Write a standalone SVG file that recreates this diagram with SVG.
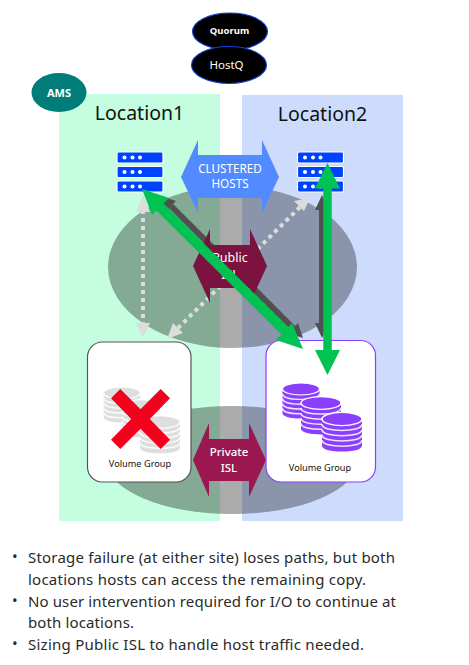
<svg xmlns="http://www.w3.org/2000/svg" width="469" height="665" viewBox="0 0 469 665">
<style>
text{font-family:"Noto Sans","Liberation Sans",sans-serif;}
.w{fill:#fff;text-anchor:middle}
.k{fill:#111;text-anchor:middle}
.b{fill:#2a2a2a;font-size:15px}
.quad{fill:#000;stroke:#0f3fd8;stroke-width:1.2}
.srv{fill:#0043ff;stroke:#fff;stroke-width:1.2}
.card{fill:#fff}
.big{fill:#0a0a0a;fill-opacity:.34}
.dark{stroke:#505050;stroke-width:6;fill:none}
.green{stroke:#00c354;stroke-width:8.500;fill:none}
.dot{stroke:#dcdcdc;stroke-width:4;stroke-dasharray:4 4;fill:none}
</style>
<defs>
<g id="row"><rect class="srv" x="0" y="0" width="46" height="11" rx="1.5"/><circle cx="7.500" cy="5.500" r="2" fill="#fff"/><circle cx="15.500" cy="5.500" r="2" fill="#fff"/><circle cx="23" cy="5.500" r="2" fill="#fff"/></g>
<g id="server"><use href="#row" y="0"/><use href="#row" y="14.500"/><use href="#row" y="29"/></g>
<g id="stack">
<path d="M-20 0V30C-20 35 -10 37 0 37S20 35 20 30V0Z" fill="currentColor"/>
<g fill="none" stroke="#fff" stroke-width="1.800" stroke-opacity=".85">
<path d="M-20 6C-20 11 -10 13 0 13S20 11 20 6"/>
<path d="M-20 12C-20 17 -10 19 0 19S20 17 20 12"/>
<path d="M-20 18C-20 23 -10 25 0 25S20 23 20 18"/>
<path d="M-20 24C-20 29 -10 31 0 31S20 29 20 24"/>
</g>
<ellipse cx="0" cy="0" rx="20" ry="7.500" fill="currentColor" stroke="#fff" stroke-width="1.500"/>
</g>
</defs>
<rect x="59" y="94" width="161" height="427" fill="#c4fde0"/>
<rect x="242" y="95" width="161" height="426" fill="#cddcfd"/>
<ellipse cx="232.500" cy="267" rx="124.500" ry="81" class="big"/>
<ellipse cx="232" cy="460" rx="126" ry="54" class="big"/>
<g id="connectors-back">
<path class="dot" d="M143 210V325"/><path d="M143 195L136 212H150Z M143 337L136 323H150Z" fill="#dcdcdc"/>
<path class="dot" d="M300 207L178 328"/><path d="M310 198L294 201L304 211Z M167 339L173 323L183 333Z" fill="#dcdcdc"/>
<path class="dark" d="M171 206L293 328"/><path d="M161 196L176 201L166 211Z M303 338L298 323L288 333Z" fill="#505050"/>
<path class="dark" d="M322 205V328"/><path d="M322 195L315 210H329Z M322 338L315 323H329Z" fill="#505050"/>
</g>
<g id="quorum"><ellipse cx="230" cy="31.500" rx="37.500" ry="18.500" class="quad"/><text x="229.500" y="33.500" class="w" font-size="9.500" font-weight="700">Quorum</text></g>
<g id="hostq"><ellipse cx="229" cy="65" rx="37.500" ry="18.500" class="quad"/><text x="226.500" y="69" class="w" font-size="11.500">HostQ</text></g>
<g id="ams"><ellipse cx="59" cy="92.500" rx="27.500" ry="19.500" fill="#007d79"/><text x="59" y="96.500" class="w" font-size="11" font-weight="700">AMS</text></g>
<g id="location1"><text x="139.500" y="120" class="k" font-size="19.500">Location1</text></g>
<g id="location2"><text x="322.500" y="121" class="k" font-size="19.500">Location2</text></g>
<g id="server1"><use href="#server" x="117" y="152"/></g>
<g id="server2"><use href="#server" x="297.500" y="152"/></g>
<g id="clustered"><path d="M181 177L198 140V155H262V140L279 177L262 213V198H198V213Z" fill="#528bff"/><text x="230" y="173" class="w" font-size="11.700">CLUSTERED</text><text x="230" y="188" class="w" font-size="11.700">HOSTS</text></g>
<g id="publicisl"><path d="M193 266L210 229V245H250V229L267 266L250 303V288H210V303Z" fill="#7c1240"/><text x="230" y="262" class="w" font-size="12.500">Public</text><text x="230" y="279" class="w" font-size="12.500">ISL</text></g>
<g id="privateisl"><path d="M193 460L209 423V439H249V423L266 460L249 497V481H209V497Z" fill="#9b1750"/><text x="229" y="456" class="w" font-size="11.500" font-weight="500">Private</text><text x="229" y="472" class="w" font-size="11.500" font-weight="500">ISL</text></g>
<g id="vg1"><rect class="card" x="87.500" y="342" width="103.500" height="140" rx="15" stroke="#555" stroke-width="1.200"/>
<g color="#dedede"><use href="#stack" transform="translate(122,393) scale(.92,.8)"/><use href="#stack" transform="translate(141,406) scale(.95,.85)"/><use href="#stack" transform="translate(160,422) scale(1,.85)"/></g>
<path d="M120.300 389L140.500 409.200L160.700 389L170 398.300L149.800 419L170 439.700L160.700 449L140.500 428.800L120.300 449L111 439.700L131.200 419L111 398.300Z" fill="#f5001c"/>
<text x="140" y="466.500" class="k" font-size="9.200">Volume Group</text></g>
<g id="vg2"><rect class="card" x="266" y="340.500" width="109.500" height="141.500" rx="15" stroke="#8a3ffc" stroke-width="1.200"/>
<g color="#8a3ffc"><use href="#stack" transform="translate(301,389) scale(.93,.8)"/><use href="#stack" transform="translate(321,403) scale(1,.85)"/><use href="#stack" transform="translate(342,419) scale(1,.88)"/></g>
<text x="320" y="471" class="k" font-size="9.200">Volume Group</text></g>
<g id="connectors">
<path class="green" stroke-width="10" style="stroke-width:10" d="M155 202L291 337"/><path d="M142 189L169 198L152 215Z M303 349L276 340L292 323Z" fill="#00c354"/>
<path class="green" d="M327.500 180V358"/><path d="M327.500 163L315 188.500H340Z M327.500 375L315 350H340Z" fill="#00c354"/>
</g>
<g id="notes">
<text x="12" y="562" class="b">•</text><text x="28" y="563" class="b" textLength="367">Storage failure (at either site) loses paths, but both</text>
<text x="28" y="585" class="b" textLength="338">locations hosts can access the remaining copy.</text>
<text x="12" y="606" class="b">•</text><text x="28" y="607" class="b" textLength="368">No user intervention required for I/O to continue at</text>
<text x="28" y="628" class="b" textLength="106">both locations.</text>
<text x="12" y="649" class="b">•</text><text x="28" y="650" class="b" textLength="336">Sizing Public ISL to handle host traffic needed.</text>
</g>
</svg>
